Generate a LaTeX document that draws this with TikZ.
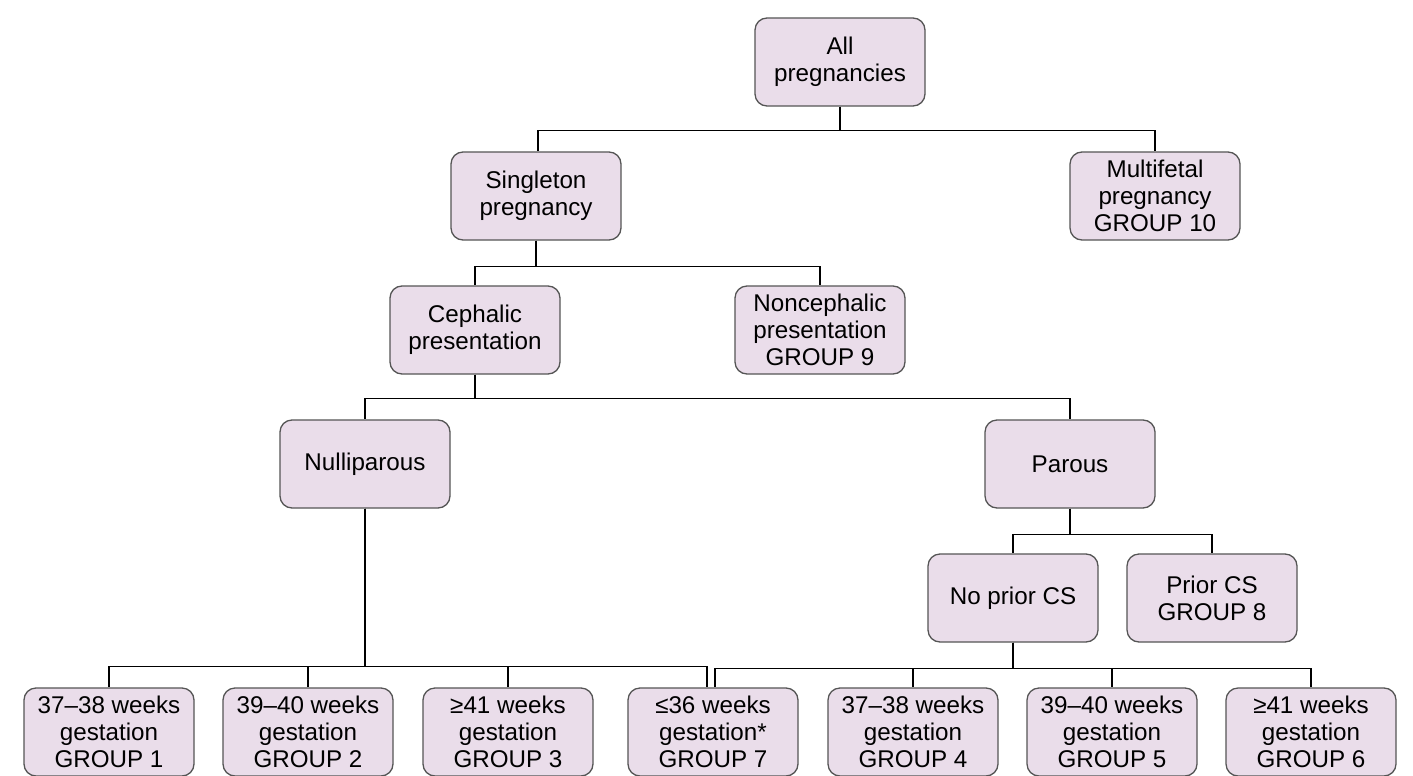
\documentclass[tikz,border=0pt]{standalone}
\usepackage{fontspec}
\setmainfont{Liberation Sans}
\definecolor{boxfill}{RGB}{234,221,234}
\definecolor{boxdraw}{RGB}{85,85,85}
\begin{document}
\begin{tikzpicture}[x=1pt,y=-1pt,
  box/.style={draw=boxdraw, fill=boxfill, line width=1.3pt, rounded corners=12pt,
    minimum width=170pt, minimum height=88pt, align=center, inner sep=2pt,
    font=\fontsize{24.2}{27}\selectfont},
  conn/.style={draw=black, line width=1.3pt}]
\useasboundingbox (0,0) rectangle (1413,776);
\node[box] (all) at (840,62) {All\\pregnancies};
\node[box] (sing) at (536,196) {Singleton\\pregnancy};
\node[box] (multi) at (1155,196) {Multifetal\\pregnancy\\GROUP 10};
\node[box] (ceph) at (475,330) {Cephalic\\presentation};
\node[box] (nonc) at (820,330) {Noncephalic\\presentation\\GROUP 9};
\node[box] (nul) at (365,464) {Nulliparous};
\node[box] (par) at (1070,464) {Parous};
\node[box] (nocs) at (1013,598) {No prior CS};
\node[box] (pcs) at (1212,598) {Prior CS\\GROUP 8};
\node[box] (g1) at (109,732) {37--38 weeks\\gestation\\GROUP 1};
\node[box] (g2) at (308,732) {39--40 weeks\\gestation\\GROUP 2};
\node[box] (g3) at (508,732) {≥41 weeks\\gestation\\GROUP 3};
\node[box] (g7) at (713,732) {≤36 weeks\\gestation*\\GROUP 7};
\node[box] (g4) at (913,732) {37--38 weeks\\gestation\\GROUP 4};
\node[box] (g5) at (1112,732) {39--40 weeks\\gestation\\GROUP 5};
\node[box] (g6) at (1311,732) {≥41 weeks\\gestation\\GROUP 6};
\draw[conn] (all.south) -- ++(0,24) -| ([xshift=2pt]sing.north);
\draw[conn] (all.south) -- ++(0,24) -| (multi.north);
\draw[conn] (sing.south) -- ++(0,26) -| (ceph.north);
\draw[conn] (sing.south) -- ++(0,26) -| (nonc.north);
\draw[conn] (ceph.south) -- ++(0,24) -| (nul.north);
\draw[conn] (ceph.south) -- ++(0,24) -| (par.north);
\draw[conn] (par.south) -- ++(0,26) -| (nocs.north);
\draw[conn] (par.south) -- ++(0,26) -| (pcs.north);
\draw[conn] (nul.south) -- ++(0,158) -| (g1.north);
\draw[conn] (nul.south) -- ++(0,158) -| (g2.north);
\draw[conn] (nul.south) -- ++(0,158) -| (g3.north);
\draw[conn] (nul.south) -- ++(0,158) -| ([xshift=-6pt]g7.north);
\draw[conn] (nocs.south) -- ++(0,26) -| ([xshift=2pt]g7.north);
\draw[conn] (nocs.south) -- ++(0,26) -| (g4.north);
\draw[conn] (nocs.south) -- ++(0,26) -| (g5.north);
\draw[conn] (nocs.south) -- ++(0,26) -| (g6.north);
\end{tikzpicture}
\end{document}
